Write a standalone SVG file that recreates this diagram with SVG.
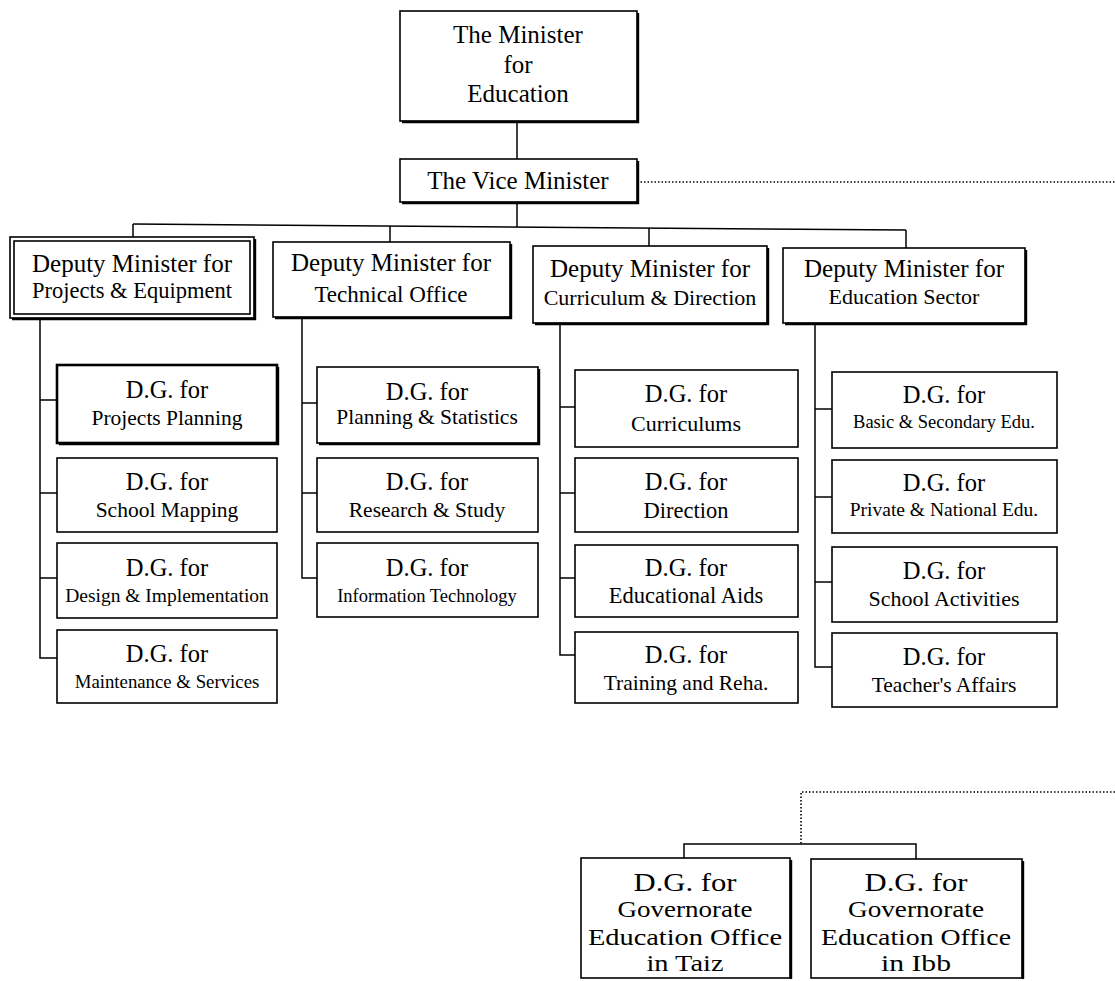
<svg xmlns="http://www.w3.org/2000/svg" width="1115" height="981" viewBox="0 0 1115 981">
<style>
.box{fill:#fff;stroke:#000;stroke-width:1.6}
.bold{fill:#fff;stroke:#000;stroke-width:2.6}
.sh{fill:none;stroke:#000;stroke-width:2.4}
.c{fill:none;stroke:#000;stroke-width:1.5}
.d{fill:none;stroke:#000;stroke-width:1.6;stroke-dasharray:1.5 2}
text{font-family:"Liberation Serif","Times New Roman",serif;fill:#000;text-anchor:middle}
.t1{font-size:25px}
.dg{font-size:24.5px}
.bt{font-size:23px}
.bdg{font-size:25px}
</style>
<rect width="1115" height="981" fill="#fff"/>
<g id="connectors">
<line class="c" x1="517" y1="121" x2="517" y2="159"/>
<line class="c" x1="517" y1="202" x2="517" y2="227"/>
<line class="c" x1="133" y1="224" x2="906" y2="230"/>
<line class="c" x1="133" y1="224" x2="133" y2="237"/>
<line class="c" x1="390" y1="226" x2="390" y2="242"/>
<line class="c" x1="649" y1="228" x2="649" y2="246"/>
<line class="c" x1="906" y1="230" x2="906" y2="248"/>
<line class="d" x1="637" y1="182" x2="1115" y2="182"/>
<polyline class="c" points="40,318 40,658 57,658"/>
<line class="c" x1="40" y1="400" x2="57" y2="400"/>
<line class="c" x1="40" y1="493" x2="57" y2="493"/>
<line class="c" x1="40" y1="578" x2="57" y2="578"/>
<polyline class="c" points="302,317 302,578 317,578"/>
<line class="c" x1="302" y1="403" x2="317" y2="403"/>
<line class="c" x1="302" y1="493" x2="317" y2="493"/>
<polyline class="c" points="560,323 560,655 575,655"/>
<line class="c" x1="560" y1="407" x2="575" y2="407"/>
<line class="c" x1="560" y1="493" x2="575" y2="493"/>
<line class="c" x1="560" y1="578" x2="575" y2="578"/>
<polyline class="c" points="815,323 815,667 832,667"/>
<line class="c" x1="815" y1="409" x2="832" y2="409"/>
<line class="c" x1="815" y1="497" x2="832" y2="497"/>
<line class="c" x1="815" y1="582" x2="832" y2="582"/>
<polyline class="d" points="1115,792 801,792 801,844"/>
<polyline class="c" points="684,858 684,844 916,844 916,859"/>
</g>
<g id="minister">
<rect class="box" x="400" y="11" width="237" height="110"/>
<polyline class="sh" points="638,13 638,122 402,122"/>
<text class="t1" x="518" y="43">The Minister</text>
<text class="t1" x="518" y="73">for</text>
<text class="t1" x="518" y="102">Education</text>
</g>
<g id="vice">
<rect class="box" x="400" y="159" width="237" height="43"/>
<polyline class="sh" points="638,161 638,203 402,203"/>
<text class="t1" x="518" y="189">The Vice Minister</text>
</g>
<g id="dep-projects">
<rect class="box" x="10" y="237" width="244" height="81" stroke-width="2"/>
<rect class="box" x="14" y="241" width="236" height="73" stroke-width="1"/>
<polyline class="sh" points="255,239 255,319 12,319"/>
<text class="t1" x="132" y="272">Deputy Minister for</text>
<text x="132" y="298" font-size="22.5">Projects &amp; Equipment</text>
</g>
<g id="dep-technical">
<rect class="box" x="273" y="242" width="237" height="75"/>
<polyline class="sh" points="511,244 511,318 275,318"/>
<text class="t1" x="391" y="271">Deputy Minister for</text>
<text x="391" y="302" font-size="23">Technical Office</text>
</g>
<g id="dep-curriculum">
<rect class="box" x="533" y="246" width="234" height="77"/>
<polyline class="sh" points="768,248 768,324 535,324"/>
<text class="t1" x="650" y="277">Deputy Minister for</text>
<text x="650" y="305" font-size="22">Curriculum &amp; Direction</text>
</g>
<g id="dep-education">
<rect class="box" x="783" y="248" width="242" height="75"/>
<polyline class="sh" points="1026,250 1026,324 785,324"/>
<text class="t1" x="904" y="277">Deputy Minister for</text>
<text x="904" y="304" font-size="22">Education Sector</text>
</g>
<g id="dg-projects-planning">
<rect class="bold" x="57" y="365" width="220" height="78"/>
<polyline class="sh" points="278,367 278,444 59,444"/>
<text class="dg" x="167" y="398">D.G. for</text>
<text x="167" y="425" font-size="21.5">Projects Planning</text>
</g>
<g id="dg-school-mapping">
<rect class="box" x="57" y="458" width="220" height="74"/>
<text class="dg" x="167" y="490">D.G. for</text>
<text x="167" y="517" font-size="21.5">School Mapping</text>
</g>
<g id="dg-design">
<rect class="box" x="57" y="543" width="220" height="75"/>
<text class="dg" x="167" y="576">D.G. for</text>
<text x="167" y="602" font-size="19.5">Design &amp; Implementation</text>
</g>
<g id="dg-maintenance">
<rect class="box" x="57" y="630" width="220" height="73"/>
<text class="dg" x="167" y="662">D.G. for</text>
<text x="167" y="688" font-size="18.8">Maintenance &amp; Services</text>
</g>
<g id="dg-planning-statistics">
<rect class="box" x="317" y="367" width="221" height="76"/>
<polyline class="sh" points="539,369 539,444 319,444"/>
<text class="dg" x="427" y="400">D.G. for</text>
<text x="427" y="424" font-size="21.5">Planning &amp; Statistics</text>
</g>
<g id="dg-research">
<rect class="box" x="317" y="458" width="221" height="74"/>
<text class="dg" x="427" y="490">D.G. for</text>
<text x="427" y="517" font-size="21.5">Research &amp; Study</text>
</g>
<g id="dg-it">
<rect class="box" x="317" y="543" width="221" height="74"/>
<text class="dg" x="427" y="576">D.G. for</text>
<text x="427" y="602" font-size="18.5">Information Technology</text>
</g>
<g id="dg-curriculums">
<rect class="box" x="575" y="370" width="223" height="77"/>
<text class="dg" x="686" y="402">D.G. for</text>
<text x="686" y="431" font-size="22">Curriculums</text>
</g>
<g id="dg-direction">
<rect class="box" x="575" y="458" width="223" height="74"/>
<text class="dg" x="686" y="490">D.G. for</text>
<text x="686" y="518" font-size="22.5">Direction</text>
</g>
<g id="dg-aids">
<rect class="box" x="575" y="545" width="223" height="72"/>
<text class="dg" x="686" y="576">D.G. for</text>
<text x="686" y="603" font-size="22.5">Educational Aids</text>
</g>
<g id="dg-training">
<rect class="box" x="575" y="632" width="223" height="71"/>
<text class="dg" x="686" y="663">D.G. for</text>
<text x="686" y="690" font-size="21.5">Training and Reha.</text>
</g>
<g id="dg-basic">
<rect class="box" x="832" y="372" width="225" height="76"/>
<text class="dg" x="944" y="403">D.G. for</text>
<text x="944" y="428" font-size="18.5">Basic &amp; Secondary Edu.</text>
</g>
<g id="dg-private">
<rect class="box" x="832" y="460" width="225" height="73"/>
<text class="dg" x="944" y="491">D.G. for</text>
<text x="944" y="516" font-size="19.5">Private &amp; National Edu.</text>
</g>
<g id="dg-activities">
<rect class="box" x="832" y="547" width="225" height="75"/>
<text class="dg" x="944" y="579">D.G. for</text>
<text x="944" y="606" font-size="22">School Activities</text>
</g>
<g id="dg-teachers">
<rect class="box" x="832" y="633" width="225" height="74"/>
<text class="dg" x="944" y="665">D.G. for</text>
<text x="944" y="692" font-size="21.5">Teacher's Affairs</text>
</g>
<g id="dg-taiz">
<rect class="box" x="581" y="858" width="209" height="120"/>
<polyline class="sh" points="791,860 791,979"/>
<text class="bdg" x="685" y="891" textLength="103" lengthAdjust="spacingAndGlyphs">D.G. for</text>
<text class="bt" x="685" y="917" textLength="135" lengthAdjust="spacingAndGlyphs">Governorate</text>
<text class="bt" x="685" y="945" textLength="194" lengthAdjust="spacingAndGlyphs">Education Office</text>
<text class="bt" x="685" y="971" textLength="77" lengthAdjust="spacingAndGlyphs">in Taiz</text>
</g>
<g id="dg-ibb">
<rect class="box" x="811" y="859" width="211" height="119"/>
<polyline class="sh" points="1023,861 1023,979"/>
<text class="bdg" x="916" y="891" textLength="103" lengthAdjust="spacingAndGlyphs">D.G. for</text>
<text class="bt" x="916" y="917" textLength="136" lengthAdjust="spacingAndGlyphs">Governorate</text>
<text class="bt" x="916" y="945" textLength="190" lengthAdjust="spacingAndGlyphs">Education Office</text>
<text class="bt" x="916" y="971" textLength="70" lengthAdjust="spacingAndGlyphs">in Ibb</text>
</g>
</svg>
